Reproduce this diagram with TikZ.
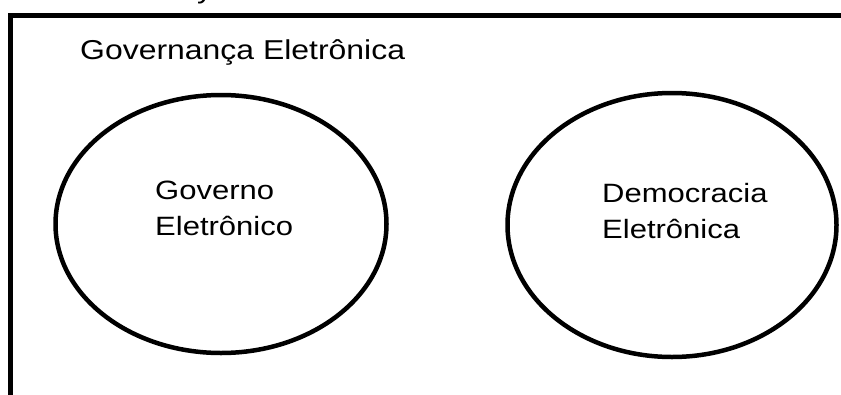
\documentclass[tikz,border=0pt]{standalone}
\usepackage{fontspec}
\setmainfont[FakeStretch=1.17]{Liberation Sans}
\usetikzlibrary{shapes.geometric}
\tikzset{
  ring/.style = {draw, ellipse, line width=4.5pt, inner sep=0pt},
  label text/.style = {anchor=base west, align=left, inner sep=0pt,
    font=\fontsize{26.5}{36}\selectfont}
}

\begin{document}
\begin{tikzpicture}[x=1pt,y=-1pt]
  \useasboundingbox (0,0) rectangle (841,394);
  \clip (0,0) rectangle (841,394);
  \draw[line width=5pt] (10,400) -- (10,15.3) -- (850,15.3);
  % tail of a letter cut off at the top edge
  \node[label text] (cut) at (197,-1.5) {y};
  \node[label text, font=\fontsize{27.3}{36}\selectfont] (title) at (80,59.5) {Governança Eletrônica};
  \node[ring, minimum width=331pt, minimum height=258pt] (govring) at (221,224) {};
  \node[ring, minimum width=329pt, minimum height=264pt] (demring) at (672,225) {};
  % base anchor sits on the last line
  \node[label text] (gov) at (155,235) {Governo\\Eletrônico};
  \node[label text] (dem) at (602,238.5) {Democracia\\Eletrônica};
\end{tikzpicture}
\end{document}
